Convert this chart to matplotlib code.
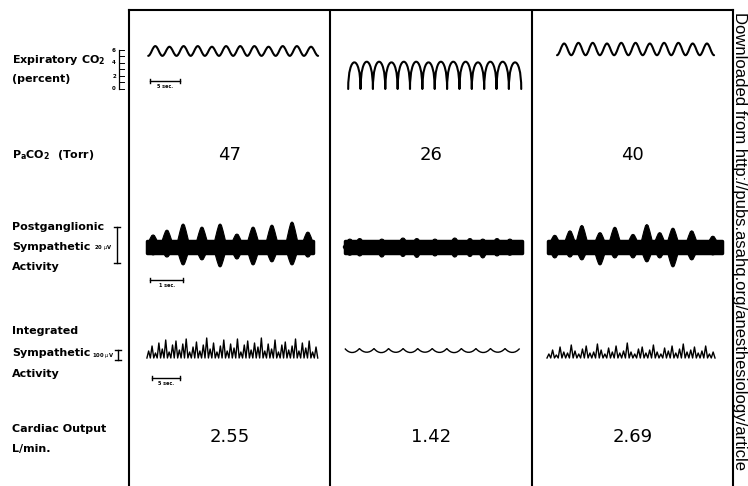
import numpy as np
import matplotlib.pyplot as plt
from matplotlib.path import Path
from matplotlib.patches import PathPatch

# values
paco2 = ['47', '26', '40']
cardiac_output = ['2.55', '1.42', '2.69']

# expiratory CO2 (percent), one value per breath
co2_peak_1 = [6.6, 6.5, 6.6, 6.6, 6.5, 6.6, 6.6, 6.6, 6.5, 6.6, 6.6, 6.5]
co2_peak_2 = [4.1, 4.2, 4.2, 4.1, 4.2, 4.2, 4.1, 4.2, 4.2, 4.2, 4.1, 4.2, 4.2, 4.1]
co2_peak_3 = [7.0, 7.1, 7.1, 7.0, 7.1, 7.1, 7.0, 7.1, 7.1, 7.0, 7.0]
co2_trough = [5.1, 0.0, 5.2]
co2_period = [2.36, 2.06, 2.38]  # sec per breath

# postganglionic sympathetic activity (uV), bursts
sna_dur = [5.03, 5.36, 5.27]
sna_half = [3.6, 3.4, 3.6]
sna_t_1 = [0.18, 0.60, 1.09, 1.66, 2.21, 2.72, 3.21, 3.78, 4.39, 4.87]
sna_up_1 = [6.7, 9.4, 12.8, 11.1, 12.8, 7.2, 11.1, 12.2, 13.9, 8.3]
sna_dn_1 = [4.4, 5.6, 10.0, 7.2, 11.1, 6.7, 10.0, 8.3, 10.0, 5.6]
sna_t_2 = [0.15, 0.45, 1.12, 1.76, 2.18, 2.73, 3.33, 3.79, 4.18, 4.61, 5.00]
sna_up_2 = [4.4, 4.7, 4.4, 5.0, 4.7, 4.4, 5.0, 4.7, 4.4, 4.7, 4.4]
sna_dn_2 = [4.6, 5.0, 5.6, 5.3, 5.8, 5.0, 5.6, 5.3, 6.1, 5.0, 4.6]
sna_t_3 = [0.21, 0.67, 1.03, 1.58, 2.03, 2.58, 3.00, 3.39, 3.79, 4.36, 5.00]
sna_up_3 = [6.5, 9.0, 12.0, 8.0, 11.0, 7.0, 12.5, 8.0, 10.5, 9.0, 6.0]
sna_dn_3 = [6.1, 5.6, 7.2, 10.0, 6.1, 6.1, 8.3, 6.1, 11.1, 7.2, 4.4]

# integrated sympathetic activity (uV)
integ_dur = [30.5, 31.2, 30.0]
integ_1 = [70, 120, 50, 150, 90, 180, 60, 130, 170, 80, 140, 190, 60, 110, 160, 70, 130,
           200, 90, 150, 60, 120, 180, 70, 140, 100, 190, 60, 130, 170, 80, 150, 110, 200,
           70, 140, 90, 180, 60, 130, 160, 80, 120, 190, 70, 150, 100, 170, 60, 110]
integ_2_dip = [55, 58, 54, 57, 55, 58, 56, 54, 57, 55, 58, 56]
integ_2_cusp = 95
integ_3 = [40, 80, 30, 110, 60, 50, 130, 70, 40, 90, 120, 50, 60, 140, 80, 40, 100, 60, 120,
           50, 70, 150, 60, 40, 90, 110, 50, 80, 130, 60, 40, 100, 70, 120, 50, 90, 140, 60,
           80, 110, 50, 70, 120, 40, 60]

# layout (pixels)
W, H = 748, 486
COL_X = [129, 332, 533, 733]
CO2_T0 = [3.2, 2.7, 4.0]
SNA_T0 = [0.55, 0.39, 0.45]
INT_T0 = [3.2, 2.3, 2.5]

fig = plt.figure(figsize=(W / 100, H / 100), dpi=100)
fig.patch.set_facecolor('white')


def px_axes(x0, y0, x1, y1, zero_px, ppu, ppx):
    ax = fig.add_axes([x0 / W, 1 - y1 / H, (x1 - x0) / W, (y1 - y0) / H])
    ax.set_xlim(0, (x1 - x0) / ppx)
    ax.set_ylim((zero_px - y1) / ppu, (zero_px - y0) / ppu)
    ax.axis('off')
    return ax


def arch_path(t0, period, peaks, base, sq):
    # arches joined at the base (square-ish capnogram)
    verts = [(t0, base)]
    codes = [Path.MOVETO]
    for k, pk in enumerate(peaks):
        a = t0 + k * period
        b = a + period
        c = base + (pk - base) / 0.75
        verts += [(a + sq * period, c), (b - sq * period, c), (b, base)]
        codes += [Path.CURVE4] * 3
    return Path(verts, codes)


def wave_path(t0, period, peaks, base):
    # smooth rise and fall, flat tangents at top and bottom
    verts = [(t0, base)]
    codes = [Path.MOVETO]
    hp = period / 2
    for k, pk in enumerate(peaks):
        a = t0 + k * period
        verts += [(a + 0.36 * hp, base), (a + 0.64 * hp, pk), (a + hp, pk),
                  (a + 1.36 * hp, pk), (a + 1.64 * hp, base), (a + period, base)]
        codes += [Path.CURVE4] * 6
    return Path(verts, codes)


def time_bar(ax, t0, length, y, tick, label):
    kw = dict(color='k', lw=1.0, clip_on=False)
    ax.plot([t0, t0 + length], [y, y], **kw)
    ax.plot([t0, t0], [y - tick, y + tick], **kw)
    ax.plot([t0 + length, t0 + length], [y - tick, y + tick], **kw)
    ax.text(t0 + length / 2, y - 1.6 * tick, label, ha='center', va='top',
            fontsize=3.5, fontweight='bold')


def i_bar(ax, x, y0, length, serif, label, lx, ly):
    kw = dict(color='k', lw=1.0, clip_on=False)
    ax.plot([x, x], [y0, y0 + length], **kw)
    ax.plot([x - serif, x + serif], [y0, y0], **kw)
    ax.plot([x - serif, x + serif], [y0 + length, y0 + length], **kw)
    ax.text(lx, ly, label, ha='right', va='center', fontsize=3.8, fontweight='bold')


# frame with column dividers
fr = fig.add_axes([COL_X[0] / W, 0, (COL_X[3] - COL_X[0]) / W, (H - 10) / H])
fr.set_xlim(0, 3)
fr.set_ylim(H, 10)
fr.set_facecolor('none')
fr.set_xticks([])
fr.set_yticks([])
fr.spines['bottom'].set_visible(False)
for s in ['left', 'right', 'top']:
    fr.spines[s].set_linewidth(1.5)
for xd in [1, 2]:
    fr.axvline(xd, color='k', lw=1.5)
for i in range(3):
    fr.text(i + 0.5, 155, paco2[i], ha='center', va='center', fontsize=13)
    fr.text(i + 0.5, 437, cardiac_output[i], ha='center', va='center', fontsize=13)

# row labels
labels = [(60, r'Expiratory CO$_\mathbf{2}$'), (79, '(percent)'),
          (155, r'P$_\mathbf{a}$CO$_\mathbf{2}$  (Torr)'),
          (227, 'Postganglionic'), (247, 'Sympathetic'), (267, 'Activity'),
          (331, 'Integrated'), (353, 'Sympathetic'), (374, 'Activity'),
          (429, 'Cardiac Output'), (449, 'L/min.')]
for y, s in labels:
    fig.text(12 / W, 1 - y / H, s, ha='left', va='center', fontsize=8,
             fontweight='bold')

# expiratory CO2
co2_peaks = [co2_peak_1, co2_peak_2, co2_peak_3]
for i in range(3):
    ax = px_axes(COL_X[i], 30, COL_X[i + 1], 100, 89, 6.5, 6)
    if i == 1:
        p = arch_path(CO2_T0[i], co2_period[i], co2_peaks[i], co2_trough[i], 0.0)
    else:
        p = wave_path(CO2_T0[i], co2_period[i], co2_peaks[i], co2_trough[i])
    ax.add_patch(PathPatch(p, facecolor='none', edgecolor='k', lw=1.5,
                           joinstyle='round', capstyle='round'))
    if i == 0:
        time_bar(ax, 3.5, 5, 1.23, 0.3, '5 sec.')
        sx = -1.67
        ax.plot([sx, sx], [0, 6], color='k', lw=0.9, clip_on=False)
        for v in range(7):
            ax.plot([sx, sx + 0.8], [v, v], color='k', lw=0.7, clip_on=False)
        for v in [0, 2, 4, 6]:
            ax.text(sx - 0.5, v, str(v), ha='right', va='center', fontsize=4,
                    fontweight='bold')

# postganglionic sympathetic activity
sna_t = [sna_t_1, sna_t_2, sna_t_3]
sna_up = [sna_up_1, sna_up_2, sna_up_3]
sna_dn = [sna_dn_1, sna_dn_2, sna_dn_3]
shape_x = np.array([-1, -0.75, -0.45, -0.2, 0, 0.2, 0.45, 0.75, 1])
shape_y = np.array([0, 0.35, 0.7, 0.95, 1, 0.95, 0.7, 0.35, 0])
for i in range(3):
    ax = px_axes(COL_X[i], 212, COL_X[i + 1], 295, 247, 1.8, 33)
    t0 = SNA_T0[i]
    ax.fill_between([t0, t0 + sna_dur[i]], -sna_half[i], sna_half[i], color='k',
                    lw=2.5, edgecolor='k', joinstyle='round', capstyle='round')
    w = 0.2
    for t, up, dn in zip(sna_t[i], sna_up[i], sna_dn[i]):
        xs = shape_x * w + t0 + t
        for h in (up, -dn):
            ax.fill(xs, shape_y * h, color='k', lw=0.8)
    if i == 0:
        time_bar(ax, 0.64, 1, -18.3, 1.1, '1 sec.')
        i_bar(ax, -0.36, -9, 20, 0.09, r'20 $\mu$V', -0.5, 0)

# integrated sympathetic activity
for i in range(3):
    ax = px_axes(COL_X[i], 325, COL_X[i + 1], 392, 358, 0.1, 5.6)
    t0 = INT_T0[i]
    if i == 1:
        n = len(integ_2_dip)
        p = arch_path(t0, integ_dur[1] / n, integ_2_dip, integ_2_cusp, 0.3)
        ax.add_patch(PathPatch(p, facecolor='none', edgecolor='k', lw=1.0))
    else:
        hs = integ_1 if i == 0 else integ_3
        n = len(hs)
        xs = np.linspace(t0, t0 + integ_dur[i], 2 * n + 1)
        ys = np.zeros(2 * n + 1)
        ys[1::2] = hs
        ax.plot(xs, ys, color='k', lw=1.0)
    if i == 0:
        time_bar(ax, 4.1, 5, -200, 20, '5 sec.')
        i_bar(ax, -1.96, -20, 100, 0.54, r'100 $\mu$V', -2.6, 30)

fig.text(734.5 / W, 1 - 12 / H,
         'Downloaded from http://pubs.asahq.org/anesthesiology/article',
         rotation=-90, rotation_mode='anchor', ha='left', va='baseline',
         fontsize=12, family='Liberation Sans')

fig.savefig('out.png', dpi=100)
